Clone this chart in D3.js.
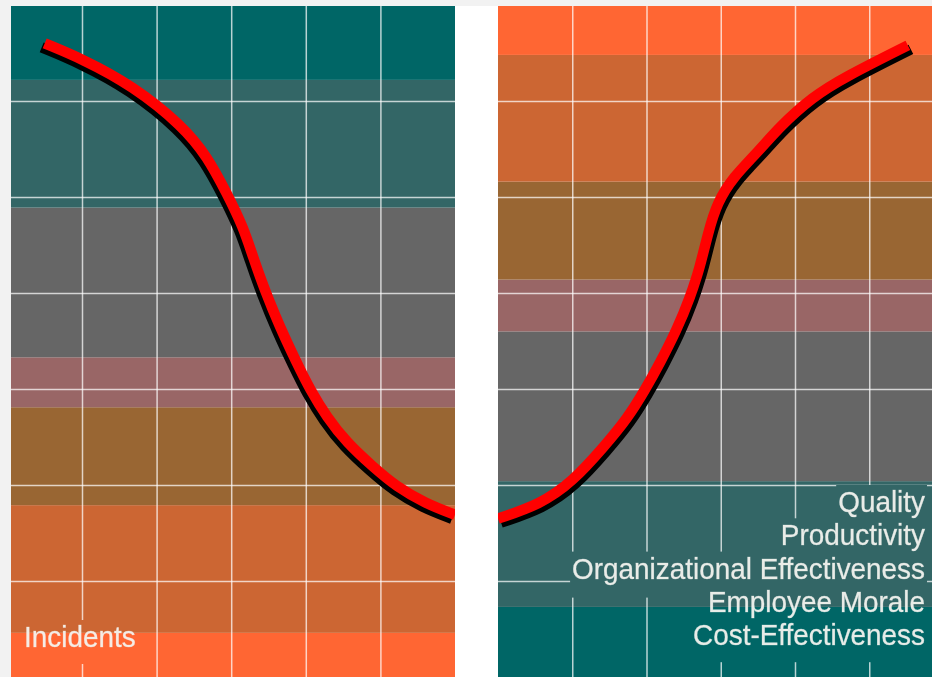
<!DOCTYPE html>
<html>
<head>
<meta charset="utf-8">
<script src="https://cdn.jsdelivr.net/npm/d3@7"></script>
<style>
  html, body { margin: 0; padding: 0; background: #f2f2f2; overflow: hidden; }
  svg { display: block; }
</style>
</head>
<body>
<svg id="chart" width="932" height="677"></svg>
<script>
"use strict";

// band colours, listed bottom to top
let left_band_colors = ["#FF6633", "#CC6633", "#996633", "#996666", "#666666", "#336666", "#006666"];
let right_band_colors = ["#006666", "#336666", "#666666", "#996666", "#996633", "#CC6633", "#FF6633"];
// band edges in grid rows (0 = bottom of picture)
let left_band_breaks = [0, 0.46, 1.79, 2.81, 3.33, 4.89, 6.22, 7];
let right_band_breaks = [0, 0.73, 2.04, 3.60, 4.14, 5.16, 6.48, 7];

// the two curves, in grid units
let left_curve_x = [0.50, 1.00, 1.68, 2.35, 2.68, 2.94, 3.16, 3.29, 3.45, 3.65, 3.88, 4.06, 4.28, 4.55, 4.90, 5.22, 5.60, 6.00];
let left_curve_y = [6.60, 6.44, 6.16, 5.74, 5.42, 5.04, 4.69, 4.38, 4.03, 3.65, 3.27, 2.99, 2.71, 2.44, 2.19, 1.98, 1.81, 1.69];
let right_curve_x = [0.00, 0.57, 1.00, 1.44, 1.74, 1.98, 2.18, 2.41, 2.59, 2.72, 2.83, 2.95, 3.17, 3.49, 3.79, 4.23, 4.67, 5.52];
let right_curve_y = [1.65, 1.80, 2.03, 2.41, 2.69, 2.99, 3.27, 3.62, 3.96, 4.27, 4.63, 4.94, 5.21, 5.46, 5.73, 6.04, 6.25, 6.58];

let left_labels = ["Incidents"];
let right_labels = ["Quality", "Productivity", "Organizational Effectiveness", "Employee Morale", "Cost-Effectiveness"];

let x_ticks = [1, 2, 3, 4, 5];
let y_ticks = [1, 2, 3, 4, 5, 6];

let width = 932, height = 677;
let top_edge = 6;
let svg = d3.select("#chart");
let defs = svg.append("defs");

svg.append("rect").attr("width", width).attr("height", height).attr("fill", "#f2f2f2");
svg.append("rect").attr("x", 455).attr("y", top_edge).attr("width", 43).attr("height", height - top_edge).attr("fill", "#ffffff");

let y = d3.scaleLinear().domain([0, 7]).range([height, 5]);

let panels = [
    { id: "left", x0: 11, x1: 455, range: [7.4, 455], colors: left_band_colors, breaks: left_band_breaks,
      cx: left_curve_x, cy: left_curve_y, shadow: [-3, 4], labels: left_labels, anchor: "start", tx: 24, ty0: 647 },
    { id: "right", x0: 498, x1: 932, range: [498, 943.5], colors: right_band_colors, breaks: right_band_breaks,
      cx: right_curve_x, cy: right_curve_y, shadow: [3, 4], labels: right_labels, anchor: "end", tx: 925, ty0: 512 }
];

let font = "'Liberation Sans', Arial, Helvetica, sans-serif";
let squeeze = 0.93;
let line_gap = 33.3;

panels.forEach(p => {
    let x = d3.scaleLinear().domain([0, 6]).range(p.range);

    defs.append("clipPath").attr("id", "clip-" + p.id)
        .append("rect").attr("x", p.x0).attr("y", top_edge).attr("width", p.x1 - p.x0).attr("height", height - top_edge);

    let g = svg.append("g").attr("clip-path", "url(#clip-" + p.id + ")");

    // horizontal bands
    let bands = d3.range(p.colors.length).map(i => ({ lo: p.breaks[i], hi: p.breaks[i + 1], color: p.colors[i] }));
    g.selectAll("rect.band").data(bands).join("rect")
        .attr("class", "band")
        .attr("x", p.x0).attr("width", p.x1 - p.x0)
        .attr("y", d => y(d.hi)).attr("height", d => y(d.lo) - y(d.hi))
        .attr("fill", d => d.color);

    // labels first, so we can measure them for the grid mask
    let label_g = svg.append("g");
    let boxes = [];
    p.labels.forEach((txt, i) => {
        let ty = p.ty0 + i * line_gap;
        let t = label_g.append("text")
            .attr("text-anchor", p.anchor)
            .attr("transform", `translate(${p.tx},${ty}) scale(${squeeze},1)`)
            .attr("font-family", font).attr("font-size", 30)
            .attr("fill", "#f4f4f0").attr("fill-opacity", 0.94)
            .attr("stroke", "#f4f4f0").attr("stroke-opacity", 0.5).attr("stroke-width", 0.5)
            .text(txt);
        let w = t.node().getComputedTextLength() * squeeze;
        let bx = p.anchor == "end" ? p.tx - w : p.tx;
        let last = i == p.labels.length - 1;
        boxes.push({ x: bx - 2, y: ty - 27, w: w + 4, h: last ? 44 : 46 });
    });

    let mask = defs.append("mask").attr("id", "mask-" + p.id);
    mask.append("rect").attr("width", width).attr("height", height).attr("fill", "#fff");
    mask.selectAll("rect.hole").data(boxes).join("rect")
        .attr("class", "hole")
        .attr("x", d => d.x).attr("y", d => d.y).attr("width", d => d.w).attr("height", d => d.h)
        .attr("fill", "#000");

    // grid lines from the axes
    let grid = g.append("g").attr("mask", "url(#mask-" + p.id + ")");
    let gx = grid.append("g").attr("transform", `translate(0,${height})`)
        .call(d3.axisBottom(x).tickValues(x_ticks).tickSize(-(height - top_edge)).tickFormat(""));
    let gy = grid.append("g").attr("transform", `translate(${p.x0},0)`)
        .call(d3.axisLeft(y).tickValues(y_ticks).tickSize(-(p.x1 - p.x0)).tickFormat(""));
    [gx, gy].forEach(a => {
        a.select(".domain").remove();
        a.selectAll("line").attr("stroke", "#ffffff").attr("stroke-opacity", 0.72).attr("stroke-width", 1.5);
    });

    // the curve with its drop shadow (basis spline smooths out the hand-read points)
    let pts = p.cx.map((v, i) => [v, p.cy[i]]);
    let line = d3.line().x(d => x(d[0])).y(d => y(d[1])).curve(d3.curveBasis);
    g.append("path").attr("d", line(pts))
        .attr("transform", `translate(${p.shadow[0]},${p.shadow[1]})`)
        .attr("fill", "none").attr("stroke", "#000").attr("stroke-width", 10.5);
    g.append("path").attr("d", line(pts))
        .attr("fill", "none").attr("stroke", "#ff0000").attr("stroke-width", 10.5);

    label_g.raise();
});
</script>
</body>
</html>
